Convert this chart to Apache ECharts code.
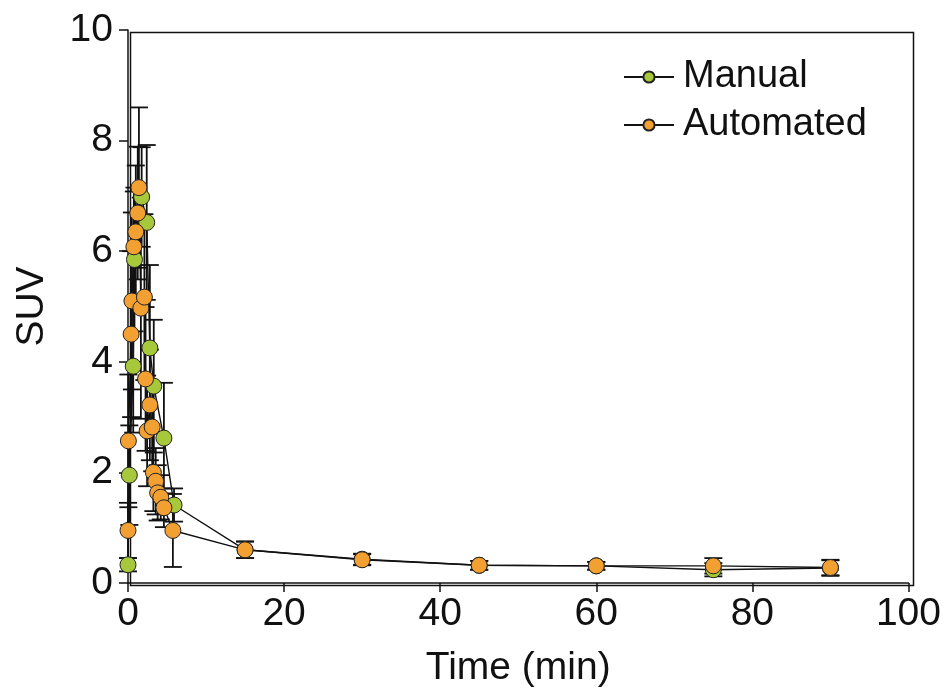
<!DOCTYPE html>
<html>
<head>
<meta charset="utf-8">
<script src="https://cdn.jsdelivr.net/npm/echarts@6/dist/echarts.min.js"></script>
<style>
  html, body { margin: 0; padding: 0; background: #fff; }
  #chart { width: 944px; height: 694px; }
</style>
</head>
<body>
<div id="chart"></div>
<script>
// (time in min, SUV with SD)
var manualTime = [0, 0.17, 0.67, 0.83, 1.75, 2.4, 2.8, 3.3, 4.6, 5.9, 15, 30, 45, 60, 75, 90]
var manualSUV = [0.33, 1.95, 3.92, 5.85, 6.98, 6.52, 4.25, 3.56, 2.62, 1.41, 0.6, 0.43, 0.32, 0.31, 0.24, 0.27]
var manualSD = [0.12, 0.9, 1.2, 1.3, 0.9, 1.4, 1.5, 1.2, 1.0, 0.3, 0.15, 0.1, 0.08, 0.07, 0.12, 0.14]

var autoTime = [0, 0.05, 0.4, 0.5, 0.75, 1.0, 1.25, 1.4, 1.65, 2.1, 2.25, 2.45, 2.8, 3.1, 3.25, 3.55, 3.8, 4.2, 4.6, 5.75, 15, 30, 45, 60, 75, 90]
var autoSUV = [0.95, 2.57, 4.5, 5.1, 6.08, 6.35, 6.69, 7.15, 4.97, 5.17, 3.69, 2.75, 3.22, 2.82, 2.0, 1.84, 1.63, 1.55, 1.36, 0.95, 0.6, 0.42, 0.32, 0.31, 0.31, 0.28]
var autoSD = [0.5, 1.2, 1.5, 1.6, 1.0, 1.2, 1.2, 1.45, 2.0, 1.5, 1.3, 1.0, 1.0, 0.8, 0.7, 0.6, 0.5, 0.4, 0.35, 0.66, 0.15, 0.1, 0.08, 0.07, 0.14, 0.14]

var xTicks = [0, 20, 40, 60, 80, 100]
var yTicks = [0, 2, 4, 6, 8, 10]

var font = 'Liberation Sans, Arial, Helvetica, sans-serif'

function points(t, v) {
  return t.map(function (x, i) { return [x, v[i]] })
}

function errorBars(name, t, v, sd) {
  return {
    name: name,
    type: 'custom',
    data: t.map(function (x, i) { return [x, v[i] - sd[i], v[i] + sd[i]] }),
    encode: { x: 0, y: [1, 2] },
    silent: true,
    renderItem: function (params, api) {
      var lo = api.coord([api.value(0), api.value(1)])
      var hi = api.coord([api.value(0), api.value(2)])
      var w = 9
      var style = { stroke: '#111', lineWidth: 1.8 }
      return {
        type: 'group',
        children: [
          { type: 'line', shape: { x1: lo[0], y1: lo[1], x2: hi[0], y2: hi[1] }, style: style },
          { type: 'line', shape: { x1: lo[0] - w, y1: lo[1], x2: lo[0] + w, y2: lo[1] }, style: style },
          { type: 'line', shape: { x1: hi[0] - w, y1: hi[1], x2: hi[0] + w, y2: hi[1] }, style: style }
        ]
      }
    }
  }
}

function lineSeries(name, t, v, color) {
  return {
    name: name,
    type: 'line',
    data: points(t, v),
    symbol: 'circle',
    symbolSize: 16,
    itemStyle: { color: color, borderColor: '#222', borderWidth: 1 },
    lineStyle: { color: '#111', width: 1.4 }
  }
}

var chart = echarts.init(document.getElementById('chart'))
chart.setOption({
  animation: false,
  backgroundColor: '#fff',
  textStyle: { fontFamily: font },
  grid: { left: 128, right: 33, top: 30, bottom: 111 },
  legend: {
    data: ['Manual', 'Automated'],
    orient: 'vertical',
    left: 618,
    top: 53,
    itemWidth: 50,
    itemHeight: 14,
    itemGap: 10,
    textStyle: { fontSize: 38, color: '#111', fontFamily: font, padding: [0, 0, 0, 4] }
  },
  xAxis: {
    type: 'value',
    min: xTicks[0],
    max: xTicks[xTicks.length - 1],
    interval: 20,
    name: 'Time (min)',
    nameLocation: 'middle',
    nameGap: 66,
    nameTextStyle: { fontSize: 39, color: '#111' },
    axisLine: { onZero: false, lineStyle: { color: '#111', width: 1.5 } },
    axisTick: { inside: false, length: 9, lineStyle: { color: '#111', width: 1.5 } },
    axisLabel: { fontSize: 39, color: '#111', margin: 12 },
    splitLine: { show: false }
  },
  yAxis: {
    type: 'value',
    min: yTicks[0],
    max: yTicks[yTicks.length - 1],
    interval: 2,
    name: 'SUV',
    nameLocation: 'middle',
    nameGap: 76,
    nameRotate: 90,
    nameTextStyle: { fontSize: 39, color: '#111' },
    axisLine: { onZero: false, lineStyle: { color: '#111', width: 1.5 } },
    axisTick: { inside: false, length: 9, lineStyle: { color: '#111', width: 1.5 } },
    axisLabel: { fontSize: 39, color: '#111', margin: 15 },
    splitLine: { show: false }
  },
  graphic: [{
    type: 'rect',
    left: 128,
    top: 30,
    shape: { width: 783, height: 553 },
    style: { fill: 'none', stroke: '#111', lineWidth: 1.5 },
    silent: true,
    z: 0
  }],
  series: [
    errorBars('Manual SD', manualTime, manualSUV, manualSD),
    lineSeries('Manual', manualTime, manualSUV, '#a6c83a'),
    errorBars('Automated SD', autoTime, autoSUV, autoSD),
    lineSeries('Automated', autoTime, autoSUV, '#f2a031')
  ]
})
</script>
</body>
</html>
